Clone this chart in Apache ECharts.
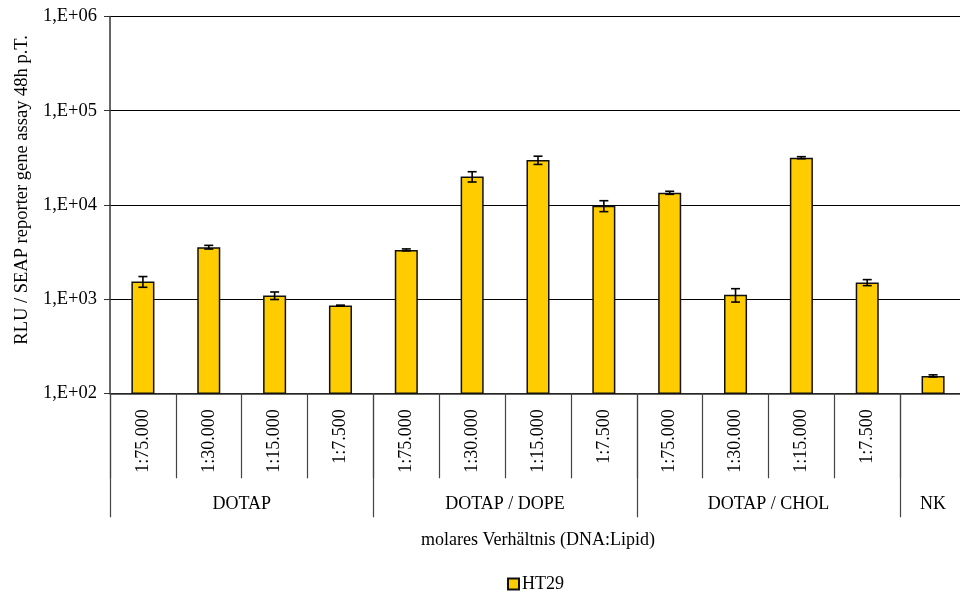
<!DOCTYPE html>
<html>
<head>
<meta charset="utf-8">
<script src="https://cdn.jsdelivr.net/npm/echarts@6/dist/echarts.min.js"></script>
<style>
  html, body { margin: 0; padding: 0; background: #fff; overflow: hidden; }
  #chart { width: 972px; height: 592px; }
</style>
</head>
<body>
<div id="chart"></div>
<script>
// Molar ratio (DNA:Lipid) per formulation
const ratios = ['1:75.000', '1:30.000', '1:15.000', '1:7.500',
                '1:75.000', '1:30.000', '1:15.000', '1:7.500',
                '1:75.000', '1:30.000', '1:15.000', '1:7.500',
                ''];
// Formulation groups and how many ratios each covers
const groupNames = ['DOTAP', 'DOTAP / DOPE', 'DOTAP / CHOL', 'NK'];
const groupSizes = [4, 4, 4, 1];
// SEAP reporter activity (RLU), HT29 cells, 48 h post transfection
const ht29 = [1535, 3560, 1090, 853, 3330, 20000, 29900, 9780, 13450, 1110, 31700, 1500, 153];
// Standard deviation of each measurement
const ht29Err = [200, 160, 100, 10, 80, 2500, 3000, 1300, 500, 180, 800, 110, 4];
// Decade ticks on the log axis
const yMin = 1e2, yMax = 1e6;

const FONT = "'Liberation Serif', 'Times New Roman', serif";

// Half-step positions for the group row: boundaries and centres
const total = groupSizes.reduce((a, b) => a + b, 0);
const halfSteps = [];
for (let i = 0; i <= 2 * total; i++) halfSteps.push(String(i));
const groupTickIdx = new Set();
const groupLabelIdx = {};
let start = 0;
groupSizes.forEach((n, g) => {
  groupTickIdx.add(2 * start);
  groupLabelIdx[2 * start + n] = groupNames[g];
  start += n;
});
groupTickIdx.add(2 * total);

const errData = ht29.map((v, i) => [i, v - ht29Err[i], v + ht29Err[i]]);

const chart = echarts.init(document.getElementById('chart'));
chart.setOption({
  animation: false,
  backgroundColor: '#ffffff',
  textStyle: { fontFamily: FONT, color: '#000' },
  grid: { left: 110, right: 6, top: 16.5, bottom: 198.7, containLabel: false },
  legend: {
    data: ['HT29'],
    left: 507, top: 575, padding: 0,
    icon: 'rect', itemWidth: 11, itemHeight: 11, itemGap: 4,
    textStyle: { fontFamily: FONT, fontSize: 18, color: '#000', padding: [0, 0, 0, -2] }
  },
  xAxis: [
    {
      type: 'category',
      data: ratios,
      axisLine: { show: true, lineStyle: { color: '#333', width: 1.5 } },
      axisTick: { show: true, length: 85, lineStyle: { color: '#444', width: 1.2 } },
      axisLabel: { rotate: 90, margin: 16, fontFamily: FONT, fontSize: 18, color: '#000', interval: 0 },
      splitLine: { show: false }
    },
    {
      type: 'category',
      data: halfSteps,
      boundaryGap: false,
      position: 'bottom',
      axisLine: { show: false },
      axisTick: {
        show: true, length: 124,
        interval: (idx) => groupTickIdx.has(idx),
        lineStyle: { color: '#444', width: 1.2 }
      },
      axisLabel: {
        margin: 102,
        interval: (idx) => idx in groupLabelIdx,
        formatter: (val, idx) => groupLabelIdx[idx] || '',
        fontFamily: FONT, fontSize: 18, color: '#000'
      },
      name: 'molares Verhältnis (DNA:Lipid)',
      nameLocation: 'middle',
      nameGap: 138,
      nameTextStyle: { fontFamily: FONT, fontSize: 18, color: '#000' },
      splitLine: { show: false }
    }
  ],
  yAxis: {
    type: 'log',
    logBase: 10,
    min: yMin,
    max: yMax,
    axisLine: { show: true, lineStyle: { color: '#333', width: 1.5 } },
    axisTick: { show: true, length: 6, lineStyle: { color: '#333' } },
    axisLabel: {
      margin: 13,
      fontFamily: FONT, fontSize: 18.5, color: '#000',
      formatter: (v) => {
        const e = Math.round(Math.log10(v));
        return '1,E+' + (e < 10 ? '0' + e : e);
      }
    },
    splitLine: { show: true, lineStyle: { color: '#000', width: 1.2 } },
    name: 'RLU / SEAP reporter gene assay 48h p.T.',
    nameLocation: 'middle',
    nameGap: 77,
    nameTextStyle: { fontFamily: FONT, fontSize: 18.5, color: '#000', padding: [0, 0, 0, 30] }
  },
  series: [
    {
      name: 'HT29',
      type: 'bar',
      data: ht29,
      barWidth: '35%',
      itemStyle: { color: '#FFCC00', borderColor: '#111', borderWidth: 1.5 }
    },
    {
      name: 'HT29 SD',
      type: 'custom',
      data: errData,
      z: 10,
      renderItem: (params, api) => {
        const x = api.value(0);
        const lo = api.coord([x, api.value(1)]);
        const hi = api.coord([x, api.value(2)]);
        const hw = 4.5;
        const style = { stroke: '#000', lineWidth: 1.6 };
        return {
          type: 'group',
          children: [
            { type: 'line', shape: { x1: lo[0], y1: lo[1], x2: hi[0], y2: hi[1] }, style },
            { type: 'line', shape: { x1: hi[0] - hw, y1: hi[1], x2: hi[0] + hw, y2: hi[1] }, style },
            { type: 'line', shape: { x1: lo[0] - hw, y1: lo[1], x2: lo[0] + hw, y2: lo[1] }, style }
          ]
        };
      }
    }
  ]
});
</script>
</body>
</html>
